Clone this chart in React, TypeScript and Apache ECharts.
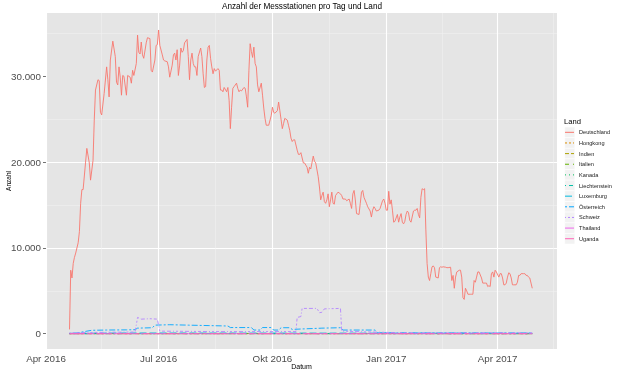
import React, { useEffect, useRef } from "react";
import * as echarts from "echarts";

const TITLE = "Anzahl der Messstationen pro Tag und Land";
const X_NAME = "Datum";
const Y_NAME = "Anzahl";
const LEGEND_TITLE = "Land";

const countries = ["Deutschland", "Hongkong", "Indien", "Italien", "Kanada", "Liechtenstein", "Luxemburg", "Österreich", "Schweiz", "Thailand", "Uganda"];
const colors = ["#F8766D", "#DB8E00", "#AEA200", "#64B200", "#00BD5C", "#00C1A7", "#00BADE", "#00A6FF", "#B385FF", "#EF67EB", "#FF63B6"];
const dashes: any[] = ["solid", [2, 2], [4, 2], [4, 4], [1, 3], [1, 3, 4, 3], [7, 3], [2, 2, 6, 2], [1, 2, 2, 2, 3, 2, 4, 2], [15, 2, 8, 2], [15, 4, 4, 4, 8, 4, 4, 4]];

const xTickDates = ["2016-04-01", "2016-07-01", "2016-10-01", "2017-01-01", "2017-04-01"];
const xTickLabels = ["Apr 2016", "Jul 2016", "Okt 2016", "Jan 2017", "Apr 2017"];
const xMinorDates = ["2016-05-16", "2016-08-16", "2016-11-16", "2017-02-15", "2017-05-16"];
const xRange = ["2016-04-01", "2017-05-19"];
const yTicks = [0, 10000, 20000, 30000];
const yRange = [-1780, 37380];

const deutschland: [string, number][] = [
  ["2016-04-20", 500], ["2016-04-21", 7400], ["2016-04-22", 6500], ["2016-04-23", 8200], ["2016-04-24", 8900], ["2016-04-25", 9400], ["2016-04-27", 10600], ["2016-04-28", 11900], ["2016-04-29", 15200], ["2016-04-30", 16800],
  ["2016-05-01", 16800], ["2016-05-03", 20000], ["2016-05-04", 21600], ["2016-05-06", 19900], ["2016-05-07", 17900], ["2016-05-09", 20200], ["2016-05-10", 24900], ["2016-05-11", 28400], ["2016-05-13", 29600], ["2016-05-14", 29500], ["2016-05-15", 25800], ["2016-05-16", 25500], ["2016-05-18", 28000], ["2016-05-20", 31100], ["2016-05-21", 29600], ["2016-05-22", 27600], ["2016-05-23", 31900], ["2016-05-25", 34100], ["2016-05-27", 32300], ["2016-05-28", 29300], ["2016-05-29", 29000], ["2016-05-30", 31100], ["2016-05-31", 29900],
  ["2016-06-01", 27800], ["2016-06-02", 30100], ["2016-06-03", 30000], ["2016-06-05", 27800], ["2016-06-06", 30100], ["2016-06-08", 29900], ["2016-06-09", 29200], ["2016-06-10", 30700], ["2016-06-11", 30100], ["2016-06-13", 31500], ["2016-06-14", 34800], ["2016-06-15", 32800], ["2016-06-16", 32600], ["2016-06-17", 34000], ["2016-06-18", 32500], ["2016-06-19", 32100], ["2016-06-21", 33900], ["2016-06-22", 34500], ["2016-06-24", 34400], ["2016-06-25", 30700], ["2016-06-26", 30500], ["2016-06-28", 31900], ["2016-06-29", 33600], ["2016-06-30", 33700],
  ["2016-07-01", 35400], ["2016-07-02", 33600], ["2016-07-04", 32500], ["2016-07-05", 31900], ["2016-07-06", 31800], ["2016-07-08", 31700], ["2016-07-09", 31100], ["2016-07-10", 29900], ["2016-07-12", 31300], ["2016-07-13", 32500], ["2016-07-14", 32700], ["2016-07-15", 31900], ["2016-07-16", 33100], ["2016-07-17", 30100], ["2016-07-18", 31300], ["2016-07-19", 33300], ["2016-07-20", 32800], ["2016-07-21", 33000], ["2016-07-22", 33900], ["2016-07-24", 34300], ["2016-07-25", 32300], ["2016-07-26", 29600], ["2016-07-27", 31900], ["2016-07-28", 32700], ["2016-07-29", 31500], ["2016-07-30", 31100], ["2016-07-31", 31100],
  ["2016-08-01", 30100], ["2016-08-02", 32300], ["2016-08-04", 33300], ["2016-08-05", 32300], ["2016-08-06", 30300], ["2016-08-07", 28700], ["2016-08-08", 28800], ["2016-08-09", 31900], ["2016-08-10", 33400], ["2016-08-11", 33600], ["2016-08-12", 32100], ["2016-08-13", 31100], ["2016-08-14", 30300], ["2016-08-15", 30900], ["2016-08-16", 30600], ["2016-08-18", 30900], ["2016-08-19", 30700], ["2016-08-20", 28400], ["2016-08-21", 28400], ["2016-08-22", 28200], ["2016-08-23", 28700], ["2016-08-25", 28200], ["2016-08-26", 28700], ["2016-08-27", 27200], ["2016-08-28", 23900], ["2016-08-29", 26400], ["2016-08-30", 28600], ["2016-08-31", 28800],
  ["2016-09-02", 29200], ["2016-09-03", 28600], ["2016-09-04", 28200], ["2016-09-05", 28400], ["2016-09-06", 28300], ["2016-09-08", 28700], ["2016-09-09", 28600], ["2016-09-10", 27600], ["2016-09-11", 26400], ["2016-09-12", 30700], ["2016-09-13", 33800], ["2016-09-14", 32900], ["2016-09-15", 32200], ["2016-09-16", 33400], ["2016-09-17", 31500], ["2016-09-18", 31100], ["2016-09-19", 29000], ["2016-09-20", 28200], ["2016-09-22", 29200], ["2016-09-23", 27800], ["2016-09-24", 26300], ["2016-09-25", 25100], ["2016-09-26", 24300], ["2016-09-28", 24300], ["2016-09-30", 25400],
  ["2016-10-01", 26400], ["2016-10-02", 25800], ["2016-10-03", 25700], ["2016-10-05", 26000], ["2016-10-06", 27000], ["2016-10-07", 26000], ["2016-10-09", 23900], ["2016-10-10", 24500], ["2016-10-11", 25100], ["2016-10-13", 24900], ["2016-10-14", 24300], ["2016-10-15", 23700], ["2016-10-16", 22800], ["2016-10-17", 22400], ["2016-10-18", 22600], ["2016-10-19", 22600], ["2016-10-21", 21400], ["2016-10-22", 20900], ["2016-10-23", 20900], ["2016-10-24", 21100], ["2016-10-26", 19900], ["2016-10-27", 19900], ["2016-10-29", 19400], ["2016-10-30", 18700], ["2016-10-31", 19400],
  ["2016-11-01", 19200], ["2016-11-03", 20700], ["2016-11-04", 20100], ["2016-11-05", 19900], ["2016-11-07", 18300], ["2016-11-08", 17100], ["2016-11-09", 15600], ["2016-11-10", 16100], ["2016-11-11", 16500], ["2016-11-12", 15400], ["2016-11-13", 15200], ["2016-11-14", 15600], ["2016-11-15", 16300], ["2016-11-16", 14800], ["2016-11-17", 15600], ["2016-11-18", 16500], ["2016-11-19", 15200], ["2016-11-20", 15100], ["2016-11-21", 16100], ["2016-11-23", 16500], ["2016-11-24", 16400], ["2016-11-25", 16300], ["2016-11-26", 16100], ["2016-11-27", 15700], ["2016-11-29", 15700], ["2016-11-30", 15500],
  ["2016-12-02", 15700], ["2016-12-03", 15200], ["2016-12-04", 14600], ["2016-12-05", 16300], ["2016-12-06", 16700], ["2016-12-07", 15600], ["2016-12-08", 14000], ["2016-12-10", 13900], ["2016-12-11", 15200], ["2016-12-12", 16500], ["2016-12-13", 16700], ["2016-12-14", 15900], ["2016-12-16", 15200], ["2016-12-17", 14800], ["2016-12-19", 14300], ["2016-12-20", 13600], ["2016-12-21", 14400], ["2016-12-22", 14800], ["2016-12-23", 14600], ["2016-12-24", 14300], ["2016-12-26", 14400], ["2016-12-27", 14600], ["2016-12-29", 15500], ["2016-12-30", 15700], ["2016-12-31", 15200],
  ["2017-01-01", 14400], ["2017-01-02", 14400], ["2017-01-03", 16600], ["2017-01-04", 15100], ["2017-01-05", 15600], ["2017-01-06", 14400], ["2017-01-07", 13000], ["2017-01-08", 13100], ["2017-01-10", 13900], ["2017-01-11", 13000], ["2017-01-12", 13600], ["2017-01-13", 14000], ["2017-01-14", 13000], ["2017-01-15", 12800], ["2017-01-16", 13100], ["2017-01-17", 13900], ["2017-01-18", 14300], ["2017-01-19", 14100], ["2017-01-20", 13200], ["2017-01-21", 13000], ["2017-01-23", 14300], ["2017-01-24", 14400], ["2017-01-25", 14400], ["2017-01-26", 14600], ["2017-01-27", 13900], ["2017-01-28", 13500], ["2017-01-29", 15900], ["2017-01-30", 16900], ["2017-01-31", 16800],
  ["2017-02-01", 16900], ["2017-02-02", 12100], ["2017-02-03", 8200], ["2017-02-04", 6600], ["2017-02-05", 6200], ["2017-02-06", 7000], ["2017-02-07", 7800], ["2017-02-08", 7900], ["2017-02-09", 7700], ["2017-02-10", 6600], ["2017-02-12", 6500], ["2017-02-13", 7700], ["2017-02-14", 7800], ["2017-02-15", 7750], ["2017-02-16", 7800], ["2017-02-18", 7750], ["2017-02-19", 7700], ["2017-02-20", 7700], ["2017-02-22", 7750], ["2017-02-23", 6200], ["2017-02-24", 6800], ["2017-02-25", 5300], ["2017-02-26", 6600], ["2017-02-27", 7200],
  ["2017-03-01", 7400], ["2017-03-02", 7400], ["2017-03-03", 6600], ["2017-03-04", 4200], ["2017-03-05", 4000], ["2017-03-06", 5300], ["2017-03-07", 5000], ["2017-03-08", 4600], ["2017-03-10", 4600], ["2017-03-11", 4600], ["2017-03-12", 4600], ["2017-03-13", 6200], ["2017-03-14", 6000], ["2017-03-15", 6600], ["2017-03-16", 7200], ["2017-03-17", 7200], ["2017-03-19", 6500], ["2017-03-20", 5900], ["2017-03-21", 5900], ["2017-03-22", 5900], ["2017-03-23", 5900], ["2017-03-24", 5500], ["2017-03-25", 5600], ["2017-03-26", 5500], ["2017-03-27", 7000], ["2017-03-28", 7200], ["2017-03-29", 6600], ["2017-03-30", 7400], ["2017-03-31", 7200],
  ["2017-04-02", 6600], ["2017-04-03", 7000], ["2017-04-04", 7000], ["2017-04-05", 6500], ["2017-04-06", 5700], ["2017-04-07", 5700], ["2017-04-08", 5900], ["2017-04-09", 6600], ["2017-04-10", 7100], ["2017-04-11", 7000], ["2017-04-12", 6500], ["2017-04-13", 5700], ["2017-04-14", 5700], ["2017-04-16", 5700], ["2017-04-17", 6000], ["2017-04-18", 6800], ["2017-04-19", 6800], ["2017-04-20", 7000], ["2017-04-22", 7000], ["2017-04-23", 7000], ["2017-04-24", 6800], ["2017-04-25", 6800], ["2017-04-26", 6600], ["2017-04-27", 6500], ["2017-04-28", 5900], ["2017-04-29", 5300],
];

const hongkong: [string, number][] = [["2016-04-20", 5], ["2016-09-01", 8], ["2017-04-29", 6]];
const indien: [string, number][] = [["2016-04-20", 10], ["2016-10-01", 12], ["2017-04-29", 9]];
const italien: [string, number][] = [["2016-04-20", 20], ["2016-08-01", 35], ["2016-12-20", 30], ["2017-04-29", 15]];
const kanada: [string, number][] = [["2016-04-20", 15], ["2016-09-01", 20], ["2017-04-29", 10]];
const liechtenstein: [string, number][] = [["2016-04-20", 8], ["2016-09-01", 10], ["2017-04-29", 7]];
const luxemburg: [string, number][] = [["2016-04-20", 40], ["2016-06-01", 90], ["2016-12-25", 70], ["2017-04-29", 50]];
const oesterreich: [string, number][] = [
  ["2016-04-20", 30], ["2016-04-26", 80], ["2016-05-02", 250], ["2016-05-08", 400], ["2016-05-20", 430], ["2016-06-05", 450], ["2016-06-12", 470], ["2016-06-14", 650], ["2016-06-26", 700], ["2016-06-28", 1000],
  ["2016-07-10", 1050], ["2016-07-25", 1000], ["2016-08-10", 950], ["2016-08-26", 900], ["2016-08-28", 720], ["2016-09-14", 720], ["2016-09-16", 430], ["2016-09-21", 430], ["2016-09-23", 720], ["2016-09-30", 720],
  ["2016-10-02", 430], ["2016-10-06", 430], ["2016-10-08", 700], ["2016-10-15", 700], ["2016-10-17", 500], ["2016-10-24", 550], ["2016-11-10", 650], ["2016-11-25", 700], ["2016-11-27", 430], ["2016-12-23", 430],
  ["2016-12-25", 100], ["2017-02-01", 90], ["2017-04-29", 80],
];
const schweiz: [string, number][] = [
  ["2016-04-20", 100], ["2016-05-10", 150], ["2016-06-12", 200], ["2016-06-14", 1900], ["2016-06-17", 1700], ["2016-06-24", 1750], ["2016-06-30", 1700], ["2016-07-02", 300], ["2016-08-15", 250], ["2016-10-20", 250],
  ["2016-10-21", 1900], ["2016-10-24", 2000], ["2016-10-25", 2950], ["2016-11-06", 2950], ["2016-11-08", 2450], ["2016-11-10", 2500], ["2016-11-12", 2900], ["2016-11-25", 2950], ["2016-11-26", 300], ["2016-12-20", 200],
  ["2017-01-15", 100], ["2017-04-29", 100],
];
const thailand: [string, number][] = [["2016-04-20", 3], ["2017-04-29", 4]];
const uganda: [string, number][] = [["2016-04-20", 2], ["2017-04-29", 3]];

const seriesData = [deutschland, hongkong, indien, italien, kanada, liechtenstein, luxemburg, oesterreich, schweiz, thailand, uganda];

const FONT = "'Liberation Sans', Arial, Helvetica, sans-serif";
const ts = (s: string) => new Date(s + "T00:00:00").getTime();
const fmtDe = (v: number) => String(v).replace(/\B(?=(\d{3})+(?!\d))/g, ".");

export default function App() {
  const ref = useRef<HTMLDivElement>(null);
  useEffect(() => {
    if (!ref.current) return;
    const chart = echarts.init(ref.current, undefined, { renderer: "svg" });
    const xTickTs = xTickDates.map(ts);
    const majorLines = xTickTs.map((t) => ({ xAxis: t, lineStyle: { color: "#FFFFFF", width: 1.1, type: "solid" } }));
    const minorLines = xMinorDates.map((d) => ({ xAxis: ts(d), lineStyle: { color: "#F2F2F2", width: 0.5, type: "solid" } }));

    const legendTop = 127;
    const rowH = 10.64;
    const keyRects = countries.map((_, i) => ({
      type: "rect",
      shape: { x: 564.7, y: legendTop + i * rowH, width: 10.2, height: rowH },
      style: { fill: "#F2F2F2", stroke: "#FFFFFF", lineWidth: 0.6 },
      z: 0,
      silent: true,
    }));

    const series: any[] = countries.map((name, i) => ({
      name,
      type: "line",
      data: seriesData[i].map(([d, v]) => [ts(d), v]),
      showSymbol: false,
      symbol: "none",
      silent: true,
      z: 3,
      lineStyle: { color: colors[i], width: 0.9, type: dashes[i] },
      itemStyle: { color: colors[i] },
      emphasis: { disabled: true },
      ...(i === 0
        ? {
            markLine: {
              silent: true,
              symbol: ["none", "none"],
              z: 1,
              label: { show: false },
              emphasis: { disabled: true },
              data: [...minorLines, ...majorLines],
            },
          }
        : {}),
    }));

    chart.setOption({
      animation: false,
      textStyle: { fontFamily: FONT },
      title: [
        { text: TITLE, left: 302, top: 2.5, textAlign: "center", padding: 0, textStyle: { fontSize: 8.2, fontWeight: "normal", color: "#000", fontFamily: FONT } },
        { text: LEGEND_TITLE, left: 564, top: 117.5, padding: 0, textStyle: { fontSize: 7.6, fontWeight: "normal", color: "#000", fontFamily: FONT } },
      ],
      grid: { left: 46, right: 63, top: 13, bottom: 23, show: true, backgroundColor: "#E5E5E5", borderWidth: 0, containLabel: false, outerBoundsMode: "none" },
      xAxis: {
        type: "value",
        min: ts(xRange[0]),
        max: ts(xRange[1]),
        scale: true,
        axisLine: { show: false },
        axisTick: { show: true, customValues: xTickTs, length: 3, lineStyle: { color: "#4D4D4D", width: 0.8 } },
        axisLabel: {
          customValues: xTickTs,
          formatter: (v: number) => {
            const i = xTickTs.findIndex((t) => Math.abs(t - v) < 43200000);
            return i >= 0 ? xTickLabels[i] : "";
          },
          color: "#4D4D4D",
          fontSize: 9.8,
          margin: 4,
          fontFamily: FONT,
        },
        splitLine: { show: false },
        name: X_NAME,
        nameLocation: "middle",
        nameMoveOverlap: false,
        nameGap: 17,
        nameTextStyle: { fontSize: 7, color: "#000", fontFamily: FONT, verticalAlign: "middle" },
      },
      yAxis: {
        type: "value",
        min: yRange[0],
        max: yRange[1],
        minInterval: 10000,
        maxInterval: 10000,
        axisLine: { show: false },
        axisTick: { show: true, customValues: yTicks, length: 3, lineStyle: { color: "#4D4D4D", width: 0.8 } },
        axisLabel: { customValues: yTicks, formatter: (v: number) => fmtDe(v), color: "#4D4D4D", fontSize: 9.8, margin: 5, fontFamily: FONT },
        splitLine: { show: true, showMinLine: false, showMaxLine: false, lineStyle: { color: "#FFFFFF", width: 1.1 } },
        minorTick: { show: false, splitNumber: 2 },
        minorSplitLine: { show: true, lineStyle: { color: "#F2F2F2", width: 0.5 } },
        name: Y_NAME,
        nameLocation: "middle",
        nameMoveOverlap: false,
        nameGap: 38,
        nameTextStyle: { fontSize: 6.5, color: "#000", fontFamily: FONT, verticalAlign: "middle" },
      },
      legend: {
        data: countries,
        orient: "vertical",
        left: 564.5,
        top: legendTop,
        padding: 0,
        itemWidth: 9,
        itemHeight: 8,
        itemGap: 0,
        selectedMode: false,
        itemStyle: { color: "rgba(0,0,0,0)", opacity: 0, borderWidth: 0 },
        textStyle: { fontSize: 5.6, color: "#1A1A1A", fontFamily: FONT, lineHeight: rowH, height: rowH },
        lineStyle: { width: 1 },
      },
      graphic: keyRects,
      series,
    });
    return () => chart.dispose();
  }, []);
  return <div ref={ref} style={{ position: "fixed", left: 0, top: 0, width: 620, height: 372 }} />;
}
